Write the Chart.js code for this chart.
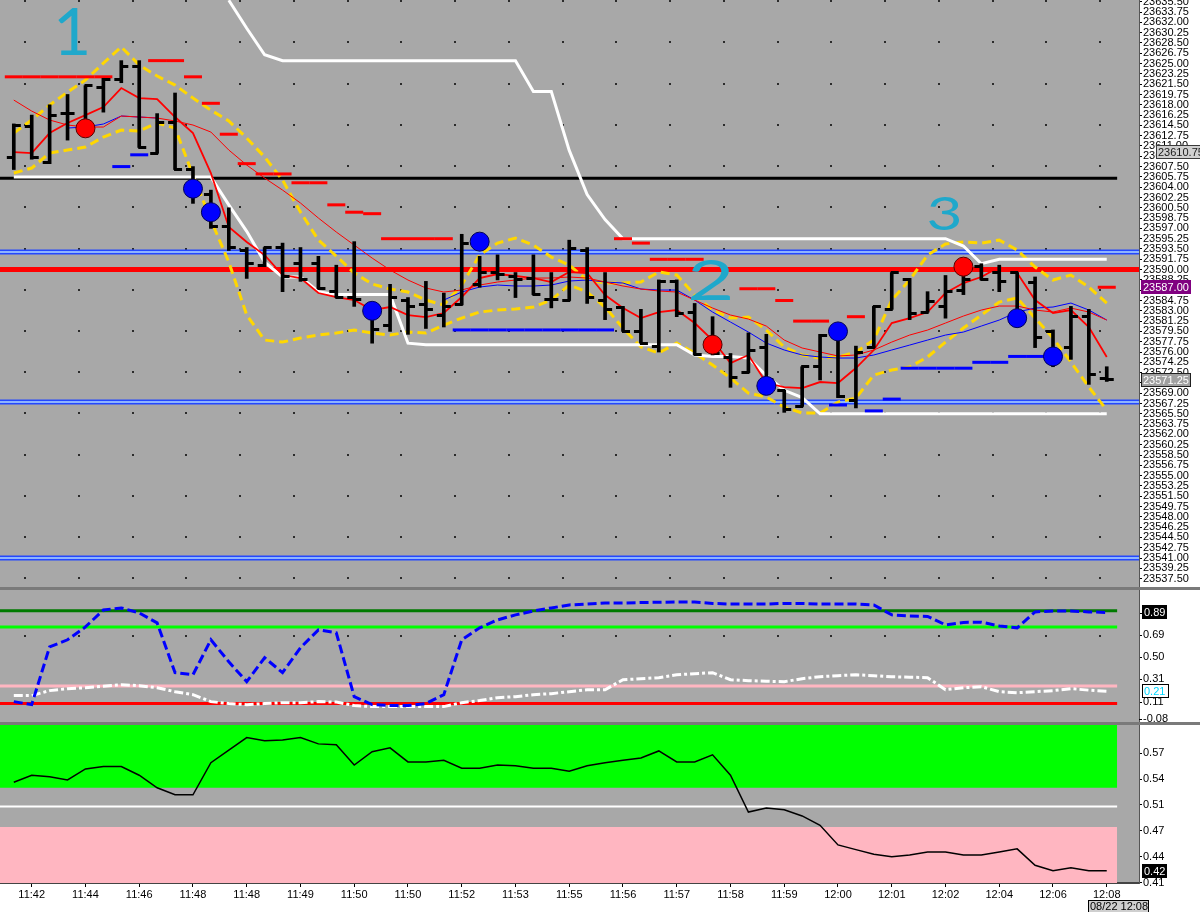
<!DOCTYPE html>
<html><head><meta charset="utf-8">
<script src="https://cdn.jsdelivr.net/npm/chart.js@4.4.1/dist/chart.umd.min.js"></script>
<style>
html,body{margin:0;padding:0;background:#fff;}
#wrap{position:relative;width:1200px;height:912px;overflow:hidden;background:#fff;}
canvas{position:absolute;left:0;}
.sep{position:absolute;left:0;width:1200px;height:3px;background:#7a7a7a;}
</style></head><body>
<div id="wrap">
<canvas id="c1" width="1200" height="587" style="top:0px"></canvas>
<div class="sep" style="top:587px"></div>
<canvas id="c2" width="1200" height="132" style="top:590px"></canvas>
<div class="sep" style="top:722px"></div>
<canvas id="c3" width="1200" height="187" style="top:725px"></canvas>
</div>
<script>
// ---------------- DATA ----------------
const XLABELS = ['11:42','11:44','11:46','11:48','11:48','11:49','11:50','11:50','11:52','11:53','11:55','11:56','11:57','11:58','11:59','12:00','12:01','12:02','12:04','12:06','12:08'];
const XLABEL_INDEX = [1,4,7,10,13,16,19,22,25,28,31,34,37,40,43,46,49,52,55,58,61];
const DATE_LABEL = '08/22 12:08';

const OPEN = [23609.00,23614.25,23608.25,23616.50,23614.50,23621.00,23622.25,23624.50,23609.75,23615.00,
23607.00,23602.75,23597.25,23593.25,23590.75,23593.75,23591.00,23591.00,23586.25,23585.25,
23583.25,23580.50,23584.75,23584.00,23582.25,23584.00,23587.50,23589.50,23588.75,23588.50,
23585.00,23584.75,23593.25,23584.75,23583.50,23579.50,23577.00,23588.00,23582.75,23576.25,
23575.00,23572.50,23576.75,23569.50,23566.75,23573.50,23579.00,23567.75,23576.75,23583.25,
23588.25,23582.75,23583.75,23586.50,23590.50,23589.50,23589.50,23587.75,23579.50,23576.75,
23582.00,23571.50];
const HIGH = [23614.75,23616.25,23618.00,23619.75,23621.25,23622.50,23625.50,23625.50,23616.50,23620.00,
23607.50,23603.50,23600.50,23593.75,23593.75,23594.50,23593.75,23592.25,23590.75,23594.75,
23584.00,23587.50,23585.25,23588.00,23586.00,23596.00,23592.25,23592.50,23589.50,23592.50,
23589.50,23595.00,23593.75,23589.50,23583.75,23583.25,23588.25,23588.25,23584.25,23582.00,
23575.75,23579.25,23579.00,23569.50,23573.50,23579.00,23580.50,23577.00,23583.75,23589.50,
23588.50,23586.25,23589.00,23590.50,23591.00,23590.75,23589.50,23588.75,23579.75,23583.75,
23583.25,23573.50];
const LOW = [23607.00,23608.75,23608.00,23612.00,23612.75,23616.75,23621.75,23610.75,23609.75,23607.00,
23601.25,23597.00,23593.25,23588.50,23590.50,23586.25,23588.00,23586.75,23585.25,23583.75,
23577.50,23579.50,23579.00,23580.00,23580.25,23584.00,23587.00,23588.25,23585.25,23585.75,
23583.50,23584.75,23584.25,23581.50,23579.50,23577.50,23576.00,23582.00,23575.50,23575.50,
23570.00,23572.50,23570.50,23565.75,23566.75,23571.25,23568.25,23566.50,23576.75,23583.25,
23581.50,23582.75,23581.75,23585.75,23588.25,23586.25,23580.25,23576.75,23573.50,23574.75,
23570.50,23571.00];
const CLOSE = [23614.50,23609.00,23616.25,23616.50,23621.25,23622.25,23624.50,23610.75,23615.00,23607.00,
23603.50,23597.25,23593.75,23591.00,23593.75,23588.75,23588.25,23586.75,23585.25,23585.00,
23579.75,23585.25,23583.75,23583.25,23583.75,23594.50,23589.50,23589.25,23588.25,23585.75,
23585.00,23593.50,23585.25,23583.25,23579.50,23577.50,23588.00,23582.50,23575.50,23575.75,
23571.75,23576.25,23571.25,23566.25,23573.50,23578.75,23568.50,23576.00,23583.75,23589.50,
23582.50,23584.50,23586.25,23588.25,23588.25,23588.00,23582.75,23578.50,23575.50,23582.00,
23572.25,23571.25];

const BB_UPPER = [23613.20,23615.41,23617.95,23620.16,23622.20,23625.09,23627.81,23624.75,23622.88,23621.35,
23619.14,23617.10,23615.24,23612.35,23609.12,23605.21,23599.78,23595.02,23592.30,23589.42,
23587.55,23586.70,23586.19,23584.83,23583.98,23587.38,23592.47,23594.51,23595.36,23594.17,
23592.13,23590.77,23588.23,23587.72,23587.72,23587.89,23589.59,23589.08,23585.68,23583.13,
23581.77,23581.94,23579.73,23576.85,23575.49,23574.98,23575.15,23576.00,23578.03,23584.83,
23588.23,23592.47,23594.34,23594.68,23594.51,23595.02,23593.32,23590.43,23588.23,23589.08,
23587.04,23584.32];
const BB_LOWER = [23606.40,23607.25,23609.80,23610.31,23610.82,23612.52,23613.71,23613.54,23614.90,23614.05,
23606.06,23598.42,23591.28,23582.28,23578.03,23577.69,23578.37,23578.88,23579.22,23579.73,
23579.22,23578.88,23579.39,23579.22,23580.58,23581.77,23582.79,23583.13,23583.30,23583.64,
23584.83,23587.38,23586.19,23583.64,23580.07,23576.85,23575.83,23577.52,23575.83,23573.79,
23571.58,23569.03,23568.35,23566.65,23565.63,23565.63,23567.50,23568.18,23572.09,23572.94,
23573.45,23575.15,23577.69,23580.07,23582.28,23584.49,23585.17,23581.77,23578.37,23574.30,
23570.05,23566.14];
const MA_FAST = [23609.97,23609.80,23613.20,23614.90,23616.25,23617.61,23620.84,23619.14,23618.97,23615.92,
23613.20,23606.40,23597.23,23594.68,23592.47,23589.08,23588.57,23586.02,23585.34,23584.83,
23583.13,23583.64,23582.28,23581.94,23582.62,23585.34,23588.57,23589.25,23588.91,23588.57,
23587.89,23589.59,23589.42,23585.68,23583.47,23581.77,23582.79,23583.13,23580.92,23578.03,
23574.13,23575.49,23570.73,23570.05,23569.88,23570.90,23570.73,23573.28,23576.34,23580.92,
23581.77,23582.79,23586.02,23587.72,23588.74,23590.43,23589.42,23584.83,23582.62,23583.13,
23580.24,23575.15];
const MA_SLOW = [23618.80,23616.93,23615.41,23614.56,23614.22,23614.22,23616.09,23615.92,23615.75,23615.24,
23614.56,23613.37,23610.31,23607.76,23605.55,23603.51,23601.31,23598.76,23596.38,23594.17,
23591.96,23589.93,23588.23,23586.87,23586.19,23586.53,23587.38,23587.89,23588.23,23588.57,
23588.57,23588.74,23588.57,23587.89,23587.21,23586.70,23586.36,23586.19,23584.83,23583.47,
23582.28,23581.60,23580.41,23578.03,23576.68,23576.00,23575.32,23575.49,23576.34,23577.69,
23578.88,23579.73,23580.92,23582.11,23583.13,23583.81,23583.81,23583.13,23582.79,23583.47,
23582.79,23581.43];
const MA_BLUE = [null,null,null,23614.05,23614.22,23614.73,23616.09,23615.92,23615.75,null,
null,null,null,null,null,null,null,null,null,null,
null,null,null,null,23584.83,23586.19,23587.04,23587.38,23587.21,23587.21,
23587.38,23588.06,23588.23,23587.89,23587.72,23586.70,23586.53,23586.53,23584.83,23582.79,
23581.09,23579.39,23577.52,23576.34,23575.49,23575.15,23574.98,23574.98,23575.49,23576.34,
23577.18,23578.03,23578.88,23579.39,23580.41,23581.43,23582.79,23583.47,23583.64,23584.32,
23583.13,23581.43];
const DONCH_HI = [null,null,null,null,null,null,null,null,null,null,
null,null,23635.75,23631.00,23626.50,23625.50,23625.50,23625.50,23625.50,23625.50,
23625.50,23625.50,23625.50,23625.50,23625.50,23625.50,23625.50,23625.50,23625.50,23620.25,
23620.25,23610.25,23602.75,23598.50,23595.25,23595.25,23595.25,23595.25,23595.25,23595.25,
23595.25,23595.25,23595.25,23595.25,23595.25,23595.25,23595.25,23595.25,23595.25,23595.25,
23595.25,23595.25,23595.25,23594.00,23591.00,23591.75,23591.75,23591.75,23591.75,23591.75,
23591.75,23591.75];
const DONCH_LO = [23605.75,23605.75,23605.75,23605.75,23605.75,23605.75,23605.75,23605.75,23605.75,23605.75,
23605.75,23605.75,23601.00,23596.50,23591.25,23588.75,23588.75,23586.25,23585.75,23585.75,
23585.75,23585.75,23577.50,23577.25,23577.25,23577.25,23577.25,23577.25,23577.25,23577.25,
23577.25,23577.25,23577.25,23577.25,23577.25,23577.25,23577.25,23577.25,23575.50,23575.25,
23575.25,23575.00,23572.00,23569.50,23568.25,23565.50,23565.50,23565.50,23565.50,23565.50,
23565.50,23565.50,23565.50,23565.50,23565.50,23565.50,23565.50,23565.50,23565.50,23565.50,
23565.50,23565.50];
const RED_STOP = [23622.75,23622.75,23622.75,23622.75,23622.75,23622.75,null,null,23625.50,23625.50,
23622.75,23618.25,23613.00,23608.00,23606.25,23606.25,23604.75,23604.75,23601.00,23599.75,
23599.50,23595.25,23595.25,23595.25,23595.25,null,null,null,null,null,
null,null,null,null,23595.25,23594.50,23591.75,23591.75,23591.75,null,
null,23586.75,23586.75,23584.75,23581.25,23581.25,null,23582.00,null,null,
null,null,null,null,null,null,null,null,null,null,
null,23587.00];
const BLUE_STOP = [null,null,null,null,null,null,23607.50,23609.50,null,null,
null,null,null,null,null,null,null,null,null,null,
null,null,null,null,null,23579.75,23579.75,23579.75,23579.75,23579.75,
23579.75,23579.75,23579.75,23579.75,null,null,null,null,null,null,
null,null,null,null,null,null,23567.00,null,23566.00,23568.00,
23573.25,23573.25,23573.25,23573.25,23574.25,23574.25,23575.25,23575.25,23575.25,null,
null,null];
const RED_SIG_IDX = [4, 39, 53];
const RED_SIG_PRICE = [23614.00, 23577.25, 23590.50];
const BLUE_SIG_IDX = [10, 11, 20, 26, 42, 46, 56, 58];
const BLUE_SIG_PRICE = [23603.75, 23599.75, 23583.00, 23594.75, 23570.25, 23579.50, 23581.75, 23575.25];

const LEVEL_BLACK = 23605.50;
const LEVEL_RED = 23590.00;
const LEVEL_BLUE = [23593.00, 23567.50, 23541.00];
const LABEL_PRICE_GRAY = 23610.75;

const PRICE_TICKS = [23537.50,23539.25,23541.00,23542.75,23544.50,23546.25,23548.00,23549.75,23551.50,23553.25,
23555.00,23556.75,23558.50,23560.25,23562.00,23563.75,23565.50,23567.25,23569.00,23570.75,
23572.50,23574.25,23576.00,23577.75,23579.50,23581.25,23583.00,23584.75,23586.50,23588.25,
23590.00,23591.75,23593.50,23595.25,23597.00,23598.75,23600.50,23602.25,23604.00,23605.75,
23607.50,23609.25,23611.00,23612.75,23614.50,23616.25,23618.00,23619.75,23621.50,23623.25,
23625.00,23626.75,23628.50,23630.25,23632.00,23633.75,23635.50];

const ANNOT_TEXT = ['1', '2', '3'];
const ANNOT_X = [3.25, 38.9, 51.95];
const ANNOT_Y = [23626.45, 23584.83, 23596.72];
const ANNOT_SIZE = [66, 56, 46];
const ANNOT_STRETCH = [1.0, 1.45, 1.35];

// middle panel
const STOCH_K = [0.116,0.090,0.589,0.650,0.761,0.908,0.925,0.882,0.796,0.366,
0.348,0.650,0.460,0.288,0.495,0.366,0.581,0.736,0.710,0.159,
0.090,0.082,0.082,0.099,0.176,0.650,0.753,0.822,0.865,0.899,
0.925,0.951,0.959,0.968,0.968,0.972,0.974,0.976,0.976,0.964,
0.959,0.959,0.959,0.964,0.964,0.959,0.959,0.959,0.951,0.865,
0.856,0.852,0.779,0.800,0.802,0.770,0.753,0.891,0.899,0.899,
0.891,0.886];
const STOCH_D = [0.168,0.168,0.211,0.228,0.236,0.249,0.262,0.254,0.236,0.202,
0.176,0.116,0.099,0.090,0.099,0.107,0.107,0.116,0.112,0.082,
0.073,0.073,0.073,0.073,0.073,0.107,0.125,0.150,0.159,0.176,
0.185,0.202,0.219,0.219,0.305,0.314,0.323,0.348,0.357,0.366,
0.305,0.297,0.292,0.288,0.314,0.331,0.340,0.348,0.340,0.331,
0.327,0.323,0.219,0.236,0.245,0.202,0.193,0.202,0.211,0.228,
0.215,0.206];
const MID_LEVELS = [0.90, 0.76, 0.25, 0.10];
const MID_LEVEL_COLORS = ['#007a00', '#00ff00', '#ffb6c1', '#ff0000'];
const MID_TICKS = [0.88, 0.69, 0.50, 0.31, 0.11];
const MID_LOW_LABEL = '-0.08';

// bottom panel
const OSC = [0.537,0.546,0.544,0.540,0.554,0.557,0.557,0.546,0.530,0.521,
0.521,0.562,0.578,0.594,0.590,0.591,0.594,0.586,0.585,0.559,
0.576,0.581,0.563,0.563,0.565,0.555,0.555,0.559,0.558,0.555,
0.555,0.551,0.558,0.562,0.565,0.568,0.577,0.563,0.563,0.572,
0.546,0.499,0.504,0.502,0.494,0.482,0.457,0.451,0.445,0.442,
0.444,0.448,0.448,0.444,0.444,0.448,0.452,0.431,0.424,0.428,
0.424,0.424];
const BOT_GREEN_BAND = [0.53, 0.62];
const BOT_WHITE = 0.506;
const BOT_PINK_BAND = [0.40, 0.48];
const BOT_TICKS = [0.574, 0.541, 0.508, 0.475, 0.442, 0.409];
const BOT_TICK_LABELS = ['0.57', '0.54', '0.51', '0.47', '0.44', '0.41'];

// ---------------- LAYOUT / STYLE ----------------
const FONT = '"Liberation Sans", Arial, sans-serif';
const GRAY = '#a8a8a8';
const X_MIN = -0.77, X_MAX = 62.8, BAND_END = 61.58;
const AXIS_W = 61;

const pts = arr => arr.map((v, i) => ({x: i, y: v}));
const seg = (v, end) => [{x: X_MIN - 1, y: v}, {x: end, y: v}];
const lineDs = (data, color, width, order, extra) => Object.assign({type: 'line', data, borderColor: color, borderWidth: width, pointRadius: 0, tension: 0, order, fill: false, spanGaps: false}, extra || {});

function xCfg(show) {
  return {
    type: 'linear', min: X_MIN, max: X_MAX, offset: false, display: show,
    afterBuildTicks: s => { s.ticks = XLABEL_INDEX.map(v => ({value: v})); },
    ticks: {autoSkip: false, maxRotation: 0, minRotation: 0, padding: 1, color: '#000', font: {family: FONT, size: 11},
      callback: (v, i) => XLABELS[i]},
    grid: {offset: false, drawOnChartArea: false, drawTicks: true, tickLength: 4, color: '#000'},
    border: {display: true, color: '#444', width: 2},
    afterFit: s => { s.height = show ? 29 : 0; s.paddingLeft = 0; s.paddingRight = 0; }
  };
}
function yCfg(min, max, ticks, cb) {
  return {
    type: 'linear', position: 'right', min, max, beginAtZero: false,
    afterBuildTicks: s => { s.ticks = ticks.map(v => ({value: v})); },
    ticks: {autoSkip: false, padding: 1, color: '#000', font: {family: FONT, size: 11}, callback: cb},
    grid: {drawOnChartArea: false, drawTicks: true, tickLength: 3, color: '#000'},
    border: {display: true, color: '#555', width: 1},
    afterFit: s => { s.width = AXIS_W; s.paddingTop = 0; s.paddingBottom = 0; }
  };
}
const baseOpts = (scales) => ({
  responsive: false, maintainAspectRatio: false, animation: false, devicePixelRatio: 1, events: [],
  layout: {padding: 0, autoPadding: false},
  plugins: {legend: {display: false}, tooltip: {enabled: false}},
  scales
});

function panelBg(chart) {
  const {ctx, chartArea: a, width, height} = chart;
  ctx.save();
  ctx.fillStyle = '#fff'; ctx.fillRect(0, 0, width, height);
  ctx.fillStyle = GRAY; ctx.fillRect(a.left, a.top, a.right - a.left, a.bottom - a.top);
  ctx.restore();
}
function gridDots(chart, values) {
  const {ctx, chartArea: a} = chart; const xs = chart.scales.x, ys = chart.scales.y;
  ctx.save(); ctx.fillStyle = '#2b2b2b';
  for (let i = 0; i < 21; i++) {
    const px = Math.round(xs.getPixelForValue(0.57 + 3 * i));
    for (const v of values) {
      const py = Math.round(ys.getPixelForValue(v));
      if (py < a.top || py > a.bottom - 2) continue;
      ctx.fillRect(px, py, 2, 2);
    }
  }
  ctx.restore();
}
function valueBox(ctx, text, x, yc, w, bg, fg, border) {
  ctx.save();
  ctx.fillStyle = bg; ctx.fillRect(x, Math.round(yc) - 7, w, 14);
  if (border) { ctx.strokeStyle = border; ctx.lineWidth = 1; ctx.strokeRect(x + 0.5, Math.round(yc) - 6.5, w - 1, 13); }
  ctx.fillStyle = fg; ctx.font = '11px ' + FONT; ctx.textAlign = 'left'; ctx.textBaseline = 'middle';
  ctx.fillText(text, x + 2, Math.round(yc) + 0.5);
  ctx.restore();
}

// OHLC tick images
const openImg = document.createElement('canvas'); openImg.width = 16; openImg.height = 3;
openImg.getContext('2d').fillRect(1, 0, 8, 3);
const closeImg = document.createElement('canvas'); closeImg.width = 16; closeImg.height = 3;
closeImg.getContext('2d').fillRect(7, 0, 8, 3);

// ---------------- MAIN PANEL ----------------
const mainRows = [];
for (let p = 23600.75 - 7 * 10; p <= 23636; p += 7) mainRows.push(p);

const mainPlugin = {
  id: 'mainPlug',
  beforeDraw: chart => panelBg(chart),
  beforeDatasetsDraw: chart => gridDots(chart, mainRows),
  afterDraw(chart) {
    const {ctx} = chart; const xs = chart.scales.x, ys = chart.scales.y;
    ANNOT_TEXT.forEach((t, i) => {
      ctx.save();
      ctx.fillStyle = '#1fa8cb'; ctx.textAlign = 'center'; ctx.textBaseline = 'alphabetic';
      ctx.font = '400 ' + ANNOT_SIZE[i] + 'px Lato, "DejaVu Sans", sans-serif';
      ctx.translate(xs.getPixelForValue(ANNOT_X[i]), ys.getPixelForValue(ANNOT_Y[i]));
      ctx.scale(ANNOT_STRETCH[i], 1);
      ctx.fillText(t, 0, 0);
      ctx.restore();
    });
    valueBox(ctx, LABEL_PRICE_GRAY.toFixed(2), 1156, ys.getPixelForValue(LABEL_PRICE_GRAY) + 5, 50, '#d0d0d0', '#1a1a1a', '#3a3a3a');
    const lastStop = RED_STOP[RED_STOP.length - 1];
    valueBox(ctx, lastStop.toFixed(2), 1141, ys.getPixelForValue(lastStop), 50, '#800080', '#ffffff', null);
    const lastClose = CLOSE[CLOSE.length - 1];
    valueBox(ctx, lastClose.toFixed(2), 1141, ys.getPixelForValue(lastClose), 50, '#a0a0a0', '#ffffff', '#202020');
  }
};

const mainDatasets = [
  lineDs(seg(LEVEL_BLACK, BAND_END), '#000000', 3, 30),
  ...LEVEL_BLUE.map(v => lineDs(seg(v, X_MAX + 1), '#2448ff', 5, 29)),
  ...LEVEL_BLUE.map(v => lineDs(seg(v, X_MAX + 1), '#8db4ff', 2, 28)),
  lineDs(seg(LEVEL_RED, X_MAX + 1), '#ff0000', 5, 27),
  lineDs(pts(BB_UPPER), '#ffd700', 3, 20, {borderDash: [9, 5]}),
  lineDs(pts(BB_LOWER), '#ffd700', 3, 20, {borderDash: [9, 5]}),
  lineDs(pts(DONCH_HI), '#ffffff', 3, 19),
  lineDs(pts(DONCH_LO), '#ffffff', 3, 19),
  lineDs(pts(MA_BLUE), '#0000ff', 1, 18),
  lineDs(pts(MA_SLOW), '#ff0000', 1, 17),
  lineDs(pts(MA_FAST), '#ff0000', 1.8, 16),
  {type: 'line', data: pts(RED_STOP), showLine: false, pointStyle: 'line', pointRadius: 9, pointBorderWidth: 3, pointBorderColor: '#ff0000', pointBackgroundColor: '#ff0000', order: 12},
  {type: 'line', data: pts(BLUE_STOP), showLine: false, pointStyle: 'line', pointRadius: 9, pointBorderWidth: 3, pointBorderColor: '#0000ff', pointBackgroundColor: '#0000ff', order: 12},
  {type: 'bar', data: HIGH.map((h, i) => ({x: i, y: [LOW[i], h]})), backgroundColor: '#000', borderWidth: 0, barThickness: 3, order: 10},
  {type: 'line', data: pts(OPEN), showLine: false, pointStyle: openImg, pointRadius: 4, order: 9},
  {type: 'line', data: pts(CLOSE), showLine: false, pointStyle: closeImg, pointRadius: 4, order: 9},
  {type: 'line', data: RED_SIG_IDX.map((k, i) => ({x: k, y: RED_SIG_PRICE[i]})), showLine: false, pointRadius: 9.5, pointBackgroundColor: '#ff0000', pointBorderColor: '#5a0000', pointBorderWidth: 1, order: 1},
  {type: 'line', data: BLUE_SIG_IDX.map((k, i) => ({x: k, y: BLUE_SIG_PRICE[i]})), showLine: false, pointRadius: 9.5, pointBackgroundColor: '#0000ff', pointBorderColor: '#00005a', pointBorderWidth: 1, order: 1}
];

new Chart(document.getElementById('c1'), {
  type: 'line',
  data: {datasets: mainDatasets},
  options: baseOpts({x: xCfg(false), y: yCfg(23536.08, 23635.8, PRICE_TICKS, v => v.toFixed(2))}),
  plugins: [mainPlugin]
});

// ---------------- MIDDLE PANEL ----------------
const midPlugin = {
  id: 'midPlug',
  beforeDraw: chart => panelBg(chart),
  beforeDatasetsDraw: chart => gridDots(chart, [0.69, 0.11]),
  afterDraw(chart) {
    const {ctx} = chart; const ys = chart.scales.y;
    ctx.save(); ctx.fillStyle = '#000'; ctx.font = '11px ' + FONT; ctx.textAlign = 'left'; ctx.textBaseline = 'middle';
    ctx.fillText(MID_LOW_LABEL, 1143, chart.chartArea.bottom - 3);
    ctx.fillRect(1139, chart.chartArea.bottom - 3, 3, 1);
    ctx.restore();
    const k = STOCH_K[STOCH_K.length - 1], d = STOCH_D[STOCH_D.length - 1];
    valueBox(ctx, k.toFixed(2), 1142, ys.getPixelForValue(k), 25, '#000000', '#ffffff', null);
    valueBox(ctx, d.toFixed(2), 1142, ys.getPixelForValue(d), 27, '#ffffff', '#00d8ff', '#000000');
  }
};
const midDatasets = [
  ...MID_LEVELS.map((v, i) => lineDs(seg(v, BAND_END), MID_LEVEL_COLORS[i], 3, 10)),
  lineDs(pts(STOCH_D), '#ffffff', 3, 5, {borderDash: [9, 3, 3, 3]}),
  lineDs(pts(STOCH_K), '#0000ff', 3, 4, {borderDash: [9, 4]})
];
new Chart(document.getElementById('c2'), {
  type: 'line',
  data: {datasets: midDatasets},
  options: baseOpts({x: xCfg(false), y: yCfg(-0.06, 1.08, MID_TICKS, v => v.toFixed(2))}),
  plugins: [midPlugin]
});

// ---------------- BOTTOM PANEL ----------------
const botPlugin = {
  id: 'botPlug',
  beforeDraw: chart => panelBg(chart),
  afterDraw(chart) {
    const {ctx} = chart; const xs = chart.scales.x, ys = chart.scales.y;
    const o = OSC[OSC.length - 1];
    valueBox(ctx, o.toFixed(2), 1142, ys.getPixelForValue(o), 25, '#000000', '#ffffff', null);
    const bx = Math.round(xs.getPixelForValue(OSC.length - 1)) - 19;
    const by = chart.height - 12;
    ctx.save();
    ctx.fillStyle = '#cfcfcf'; ctx.fillRect(bx, by, 61, 14);
    ctx.strokeStyle = '#000'; ctx.lineWidth = 1; ctx.strokeRect(bx + 0.5, by + 0.5, 60, 14);
    ctx.fillStyle = '#000'; ctx.font = '11px ' + FONT; ctx.textAlign = 'left'; ctx.textBaseline = 'middle';
    ctx.fillText(DATE_LABEL, bx + 2, by + 6.5);
    ctx.restore();
  }
};
const botDatasets = [
  lineDs(seg(BOT_GREEN_BAND[1], BAND_END), 'rgba(0,0,0,0)', 0, 10, {fill: {value: BOT_GREEN_BAND[0]}, backgroundColor: '#00ff00'}),
  lineDs(seg(BOT_PINK_BAND[1], BAND_END), 'rgba(0,0,0,0)', 0, 10, {fill: {value: BOT_PINK_BAND[0]}, backgroundColor: '#ffb6c1'}),
  lineDs(seg(BOT_WHITE, BAND_END), '#ffffff', 2, 9),
  lineDs(pts(OSC), '#000000', 1.5, 5)
];
new Chart(document.getElementById('c3'), {
  type: 'line',
  data: {datasets: botDatasets},
  options: baseOpts({x: xCfg(true), y: yCfg(0.4084, 0.6101, BOT_TICKS, (v, i) => BOT_TICK_LABELS[i])}),
  plugins: [botPlugin]
});
</script>
</body></html>
